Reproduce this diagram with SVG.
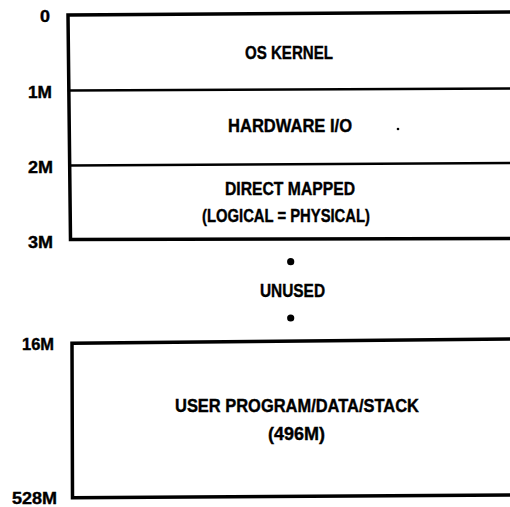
<svg xmlns="http://www.w3.org/2000/svg" width="510" height="507" viewBox="0 0 510 507">
<style>
.t{font-family:"Liberation Sans",Arial,sans-serif;font-weight:bold;font-size:18.5px;fill:#000;stroke:#000;stroke-width:0.4}
.lbl{font-family:"Liberation Sans",Arial,sans-serif;font-weight:bold;font-size:17px;fill:#000;stroke:#000;stroke-width:0.4}
.b{stroke:#000;fill:none;stroke-linecap:square}
</style>
<rect width="510" height="507" fill="#fff"/>
<g id="address-labels">
<text class="lbl" x="40" y="21.5" textLength="10" lengthAdjust="spacingAndGlyphs">0</text>
<text class="lbl" x="28" y="98" textLength="24" lengthAdjust="spacingAndGlyphs">1M</text>
<text class="lbl" x="28" y="173" textLength="25" lengthAdjust="spacingAndGlyphs">2M</text>
<text class="lbl" x="28" y="248" textLength="25" lengthAdjust="spacingAndGlyphs">3M</text>
<text class="lbl" x="22" y="350" textLength="32" lengthAdjust="spacingAndGlyphs">16M</text>
<text class="lbl" x="12" y="504" textLength="45" lengthAdjust="spacingAndGlyphs">528M</text>
</g>
<g id="system-region">
<polyline class="b" stroke-width="3.5" points="510,12 68,15 70.5,239.5 510,238.5"/>
<line class="b" stroke-width="2.4" x1="69" y1="90.5" x2="510" y2="88.5"/>
<line class="b" stroke-width="2.4" x1="70" y1="165.5" x2="510" y2="163"/>
</g>
<g id="os-kernel">
<text class="t" x="245" y="59" textLength="88" lengthAdjust="spacingAndGlyphs">OS KERNEL</text>
</g>
<g id="hardware-io">
<text class="t" x="228" y="132" textLength="124" lengthAdjust="spacingAndGlyphs">HARDWARE I/O</text>
<circle cx="398" cy="129" r="1.3" fill="#000"/>
</g>
<g id="direct-mapped">
<text class="t" x="225" y="195" textLength="130" lengthAdjust="spacingAndGlyphs">DIRECT MAPPED</text>
<text class="t" x="202" y="222" textLength="168" lengthAdjust="spacingAndGlyphs">(LOGICAL = PHYSICAL)</text>
</g>
<g id="unused">
<circle cx="290.7" cy="261.7" r="3.6" fill="#000"/>
<text class="t" x="260" y="297" textLength="65" lengthAdjust="spacingAndGlyphs">UNUSED</text>
<circle cx="290.7" cy="318" r="3.6" fill="#000"/>
</g>
<g id="user-region">
<polyline class="b" stroke-width="3.5" points="510,339 72,343.3 72.5,497.7 510,495"/>
<text class="t" x="175" y="412" textLength="244" lengthAdjust="spacingAndGlyphs">USER PROGRAM/DATA/STACK</text>
<text class="t" x="268" y="440" textLength="57" lengthAdjust="spacingAndGlyphs">(496M)</text>
</g>
<g id="connectors"></g>
</svg>
